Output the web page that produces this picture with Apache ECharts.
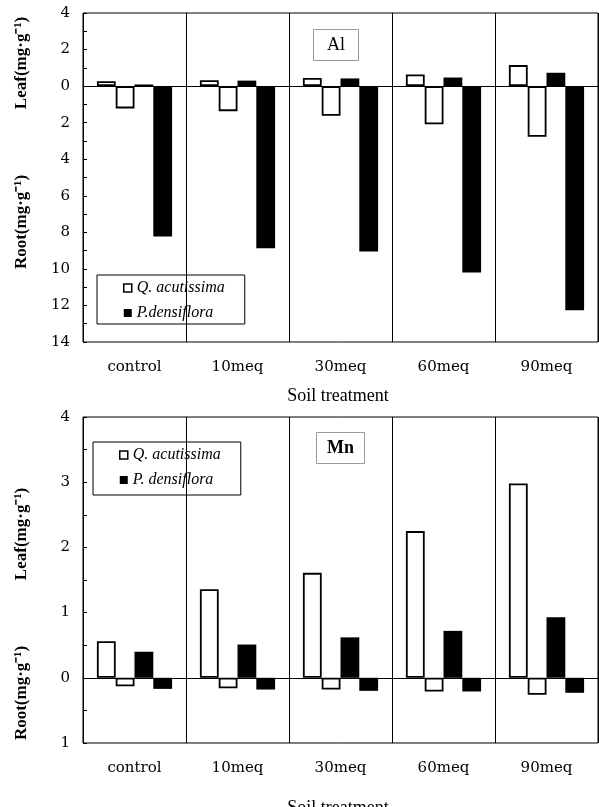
<!DOCTYPE html>
<html>
<head>
<meta charset="utf-8">
<script src="https://cdn.jsdelivr.net/npm/echarts@6/dist/echarts.min.js"></script>
<style>
html,body{margin:0;padding:0;background:#fff;}
#c{width:599px;height:807px;}
</style>
</head>
<body>
<div id="c"></div>
<script>
const categories = ['control', '10meq', '30meq', '60meq', '90meq'];

// Al panel (mg·g-1)
const alLeafQ = [0.27, 0.32, 0.45, 0.64, 1.15];
const alRootQ = [1.22, 1.37, 1.62, 2.09, 2.77];
const alLeafP = [0.09, 0.30, 0.42, 0.47, 0.73];
const alRootP = [8.23, 8.87, 9.05, 10.2, 12.26];

// Mn panel (mg·g-1)
const mnLeafQ = [0.56, 1.36, 1.61, 2.25, 2.98];
const mnRootQ = [0.13, 0.16, 0.18, 0.21, 0.26];
const mnLeafP = [0.40, 0.51, 0.62, 0.72, 0.93];
const mnRootP = [0.17, 0.18, 0.20, 0.21, 0.23];

const nameQ = 'Q. acutissima';
const nameP_top = 'P.densiflora';
const nameP_bot = 'P. densiflora';
const panelLabels = ['Al', 'Mn'];
const xTitle = 'Soil treatment';
const leafTitle = 'Leaf(mg\u00B7g\u207B\u00B9)';
const rootTitle = 'Root(mg\u00B7g\u207B\u00B9)';

const chart = echarts.init(document.getElementById('c'), null, {renderer: 'canvas'});

const serif = 'Liberation Serif';
const tickFont = 'DejaVu Serif';

const openStyle = {color: '#fff', borderColor: '#000', borderWidth: 1.8};
const solidStyle = {color: '#000'};

function neg(a) { return a.map(v => -v); }

function barSeries(name, data, style, gi, withZero) {
  const s = {
    type: 'bar', name: name, xAxisIndex: gi, yAxisIndex: gi,
    data: data, itemStyle: style,
    barGap: '0%', barCategoryGap: '27%',
    emphasis: {disabled: true}
  };
  if (withZero) {
    s.markLine = {
      silent: true, symbol: 'none', label: {show: false},
      lineStyle: {color: '#000', width: 1, type: 'solid'},
      data: [{yAxis: 0}]
    };
  }
  return s;
}

function xAxisCfg(gi) {
  return {
    type: 'category', gridIndex: gi, data: categories,
    axisLine: {show: true, lineStyle: {color: '#000', width: 1}},
    axisTick: {show: false},
    splitLine: {show: true, interval: 0, lineStyle: {color: '#000', width: 1}},
    axisLabel: {fontFamily: tickFont, fontSize: 15, color: '#000', margin: 18, interval: 0}
  };
}

function rotText(x, y, text) {
  return {
    type: 'text', x: x, y: y, rotation: Math.PI / 2,
    style: {text: text, fontFamily: serif, fontSize: 17, fontWeight: 'bold',
            fill: '#000', align: 'center', verticalAlign: 'middle'}
  };
}

const option = {
  animation: false,
  backgroundColor: '#fff',
  grid: [
    {left: 83, top: 13, width: 515, height: 329, show: true, borderColor: '#000', borderWidth: 1, containLabel: false},
    {left: 83, top: 417, width: 515, height: 326, show: true, borderColor: '#000', borderWidth: 1, containLabel: false}
  ],
  title: [
    {text: panelLabels[0], left: 313, top: 29, padding: [7, 14, 7, 14],
     borderColor: '#999', borderWidth: 1,
     textStyle: {fontFamily: serif, fontSize: 18, fontWeight: 'normal', color: '#000', lineHeight: 18}},
    {text: panelLabels[1], left: 316, top: 432, padding: [7, 11, 7, 11],
     borderColor: '#999', borderWidth: 1,
     textStyle: {fontFamily: serif, fontSize: 18, fontWeight: 'bold', color: '#000', lineHeight: 18}}
  ],
  legend: [
    {left: 97, top: 275, orient: 'vertical', icon: 'rect', itemWidth: 8, itemHeight: 8, itemGap: 9,
     padding: [5, 20, 3, 26], borderColor: '#000', borderWidth: 1, selectedMode: false,
     textStyle: {fontFamily: serif, fontStyle: 'italic', fontSize: 16, lineHeight: 16, color: '#000'},
     data: [{name: nameQ, itemStyle: {color: '#fff', borderColor: '#000', borderWidth: 1.5}},
            {name: nameP_top, itemStyle: {color: '#000', borderWidth: 0}}]},
    {left: 93, top: 442, orient: 'vertical', icon: 'rect', itemWidth: 8, itemHeight: 8, itemGap: 9,
     padding: [5, 20, 7, 26], borderColor: '#000', borderWidth: 1, selectedMode: false,
     textStyle: {fontFamily: serif, fontStyle: 'italic', fontSize: 16, lineHeight: 16, color: '#000'},
     data: [{name: nameQ, itemStyle: {color: '#fff', borderColor: '#000', borderWidth: 1.5}},
            {name: nameP_bot, itemStyle: {color: '#000', borderWidth: 0}}]}
  ],
  xAxis: [xAxisCfg(0), xAxisCfg(1)],
  yAxis: [
    {type: 'value', gridIndex: 0, min: -14, max: 4, interval: 1,
     axisLine: {show: false}, splitLine: {show: false},
     axisTick: {show: true, inside: true, length: 4, lineStyle: {color: '#000'}},
     axisLabel: {fontFamily: tickFont, fontSize: 15, color: '#000', margin: 13,
                 formatter: v => (Math.round(v) % 2 === 0 ? String(Math.abs(Math.round(v))) : '')}},
    {type: 'value', gridIndex: 1, min: -1, max: 4, interval: 0.5,
     axisLine: {show: false}, splitLine: {show: false},
     axisTick: {show: true, inside: true, length: 4, lineStyle: {color: '#000'}},
     axisLabel: {fontFamily: tickFont, fontSize: 15, color: '#000', margin: 13,
                 formatter: v => (Number.isInteger(v) ? String(Math.abs(v)) : '')}}
  ],
  series: [
    barSeries(nameQ, alLeafQ, openStyle, 0, true),
    barSeries(nameQ, neg(alRootQ), openStyle, 0, false),
    barSeries(nameP_top, alLeafP, solidStyle, 0, false),
    barSeries(nameP_top, neg(alRootP), solidStyle, 0, false),
    barSeries(nameQ, mnLeafQ, openStyle, 1, true),
    barSeries(nameQ, neg(mnRootQ), openStyle, 1, false),
    barSeries(nameP_bot, mnLeafP, solidStyle, 1, false),
    barSeries(nameP_bot, neg(mnRootP), solidStyle, 1, false)
  ],
  graphic: [
    rotText(22, 63, leafTitle),
    rotText(22, 222, rootTitle),
    rotText(22, 534, leafTitle),
    rotText(22, 693, rootTitle),
    {type: 'text', x: 338, y: 396,
     style: {text: xTitle, fontFamily: serif, fontSize: 18, fill: '#000', align: 'center', verticalAlign: 'middle'}},
    {type: 'text', x: 338, y: 808,
     style: {text: xTitle, fontFamily: serif, fontSize: 18, fill: '#000', align: 'center', verticalAlign: 'middle'}}
  ]
};

chart.setOption(option);
</script>
</body>
</html>
